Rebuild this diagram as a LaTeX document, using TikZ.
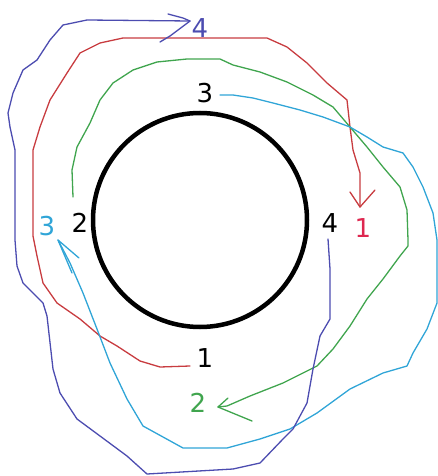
\documentclass[tikz,border=0pt]{standalone}
\usepackage{fontspec}
\setmainfont{DejaVu Sans}
\definecolor{cred}{RGB}{200,60,64}
\definecolor{credl}{RGB}{222,40,80}
\definecolor{cgreen}{RGB}{64,165,78}
\definecolor{ccyan}{RGB}{48,165,215}
\definecolor{cblue}{RGB}{76,76,176}
\begin{document}
\begin{tikzpicture}[x=1pt,y=-1pt,
  lbl/.style={inner sep=0pt,font=\fontsize{26}{26}\selectfont},
  hand/.style={line width=1.3pt,line join=round,line cap=round}]
\useasboundingbox (0,0) rectangle (438,476);
% circle
\node[circle,draw=black,line width=4.5pt,minimum size=214pt,inner sep=0pt] (c) at (200,220) {};
% black labels
\node[lbl] (b3) at (205,93) {3};
\node[lbl] (b2) at (80,223) {2};
\node[lbl] (b4) at (330,223) {4};
\node[lbl] (b1) at (205,358) {1};
% coloured labels
\node[lbl,text=cblue] (l4) at (200,28) {4};
\node[lbl,text=credl] (l1) at (363,228) {1};
\node[lbl,text=ccyan] (l3) at (47,226) {3};
\node[lbl,text=cgreen] (l2) at (198,403) {2};
% red path: 1 -> 1
\draw[hand,cred] (190,366) -- (160,367) -- (140,361) -- (117,346) -- (100,336) -- (80,319) -- (57,303) -- (43,283) -- (37,256) -- (33,236) -- (33,150) -- (40,127) -- (50,100) -- (67,73) -- (80,53) -- (100,43) -- (123,38) -- (267,38) -- (287,47) -- (307,63) -- (327,83) -- (347,100) -- (350,127) -- (353,150) -- (360,173) -- (360,207);
\draw[hand,cred] (350,192) -- (360,207) -- (375,190);
% green path: 2 -> 2
\draw[hand,cgreen] (73,197) -- (72,170) -- (77,147) -- (90,123) -- (100,100) -- (113,83) -- (133,70) -- (157,62) -- (187,59) -- (220,59) -- (233,65) -- (260,72) -- (287,82) -- (313,95) -- (333,107) -- (350,127) -- (367,147) -- (383,167) -- (400,187) -- (407,210) -- (408,240) -- (408,246) -- (400,256) -- (383,279) -- (367,299) -- (350,326) -- (333,349) -- (317,366) -- (283,383) -- (250,396) -- (227,406) -- (218,407);
\draw[hand,cgreen] (228,398) -- (218,407) -- (252,421);
% cyan path: 3 -> 3
\draw[hand,ccyan] (220,95) -- (233,95) -- (253,98) -- (273,103) -- (300,110) -- (323,117) -- (350,127) -- (367,137) -- (383,147) -- (403,153) -- (413,167) -- (423,187) -- (433,213) -- (437,240) -- (437,303) -- (427,329) -- (413,353) -- (407,366) -- (383,373) -- (350,389) -- (317,413) -- (290,429) -- (260,439) -- (227,448) -- (183,448) -- (143,426) -- (127,399) -- (110,363) -- (97,329) -- (83,293) -- (70,263) -- (58,240);
\draw[hand,ccyan] (72,273) -- (58,240) -- (79,258);
% blue path: 4 -> 4
\draw[hand,cblue] (328,239) -- (330,269) -- (330,319) -- (320,336) -- (313,369) -- (307,403) -- (293,429) -- (283,439) -- (260,463) -- (233,469) -- (147,474) -- (127,456) -- (100,436) -- (77,419) -- (60,393) -- (53,369) -- (47,316) -- (43,303) -- (23,283) -- (17,266) -- (15,240) -- (15,150) -- (10,127) -- (8,113) -- (13,93) -- (23,70) -- (37,60) -- (50,40) -- (63,25) -- (87,20) -- (190,21);
\draw[hand,cblue] (168,14) -- (183,18) -- (190,21) -- (182,27) -- (170,36) -- (160,42);
\end{tikzpicture}
\end{document}
